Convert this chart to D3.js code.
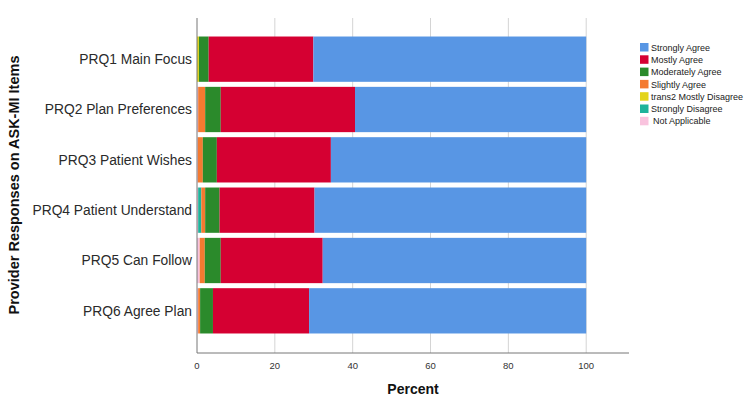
<!DOCTYPE html>
<html>
<head>
<meta charset="utf-8">
<script src="https://cdn.jsdelivr.net/npm/d3@7"></script>
<style>
  body { margin: 0; background: #fff; }
  svg { display: block; font-family: "Liberation Sans", Arial, sans-serif; }
</style>
</head>
<body>
<div id="container"></div>
<script>
// Items (top to bottom)
const items = ["PRQ1 Main Focus", "PRQ2 Plan Preferences", "PRQ3 Patient Wishes",
    "PRQ4 Patient Understand", "PRQ5 Can Follow", "PRQ6 Agree Plan"];

// Percent per response, one array per series (same order as items)
const notApplicable    = [0,    0.3,  0.2,  0.3,  0.7,  0.3];
const stronglyDisagree = [0,    0,    0,    0.8,  0,    0];
const mostlyDisagree   = [0.5,  0,    0,    0,    0,    0];
const slightlyAgree    = [0,    1.8,  1.3,  1.0,  1.3,  0.5];
const moderatelyAgree  = [2.5,  4.0,  3.6,  3.7,  4.1,  3.3];
const mostlyAgree      = [26.9, 34.5, 29.3, 24.4, 26.2, 24.7];
const stronglyAgree    = [70.1, 59.4, 65.6, 69.8, 67.7, 71.2];

const xTicks = [0, 20, 40, 60, 80, 100];

// series in stacking order (left to right)
const series = [
    {name: "Not Applicable", values: notApplicable, color: "#f9c3de"},
    {name: "Strongly Disagree", values: stronglyDisagree, color: "#1db39b"},
    {name: "trans2 Mostly Disagree", values: mostlyDisagree, color: "#e3d41a"},
    {name: "Slightly Agree", values: slightlyAgree, color: "#f47a30"},
    {name: "Moderately Agree", values: moderatelyAgree, color: "#2b8a2b"},
    {name: "Mostly Agree", values: mostlyAgree, color: "#d50032"},
    {name: "Strongly Agree", values: stronglyAgree, color: "#5896e4"}
];
// legend reads top-down in the reverse order
const legendOrder = series.slice().reverse();

const width = 752;
const height = 400;
const plot = {left: 197, right: 629, top: 18, bottom: 353};

const rows = items.map((name, i) => {
    const r = {name};
    series.forEach(s => r[s.name] = s.values[i]);
    return r;
});
const stacked = d3.stack().keys(series.map(s => s.name))(rows);

const x = d3.scaleLinear().domain([0, 111]).range([plot.left, plot.right]);
const y = d3.scaleBand().domain(items).range([34, 336])
    .paddingInner(0.1).paddingOuter(0.05);
const color = d3.scaleOrdinal(series.map(s => s.name), series.map(s => s.color));

const svg = d3.create("svg")
    .attr("width", width)
    .attr("height", height)
    .attr("viewBox", [0, 0, width, height]);

// grid lines
svg.append("g")
    .selectAll("line")
    .data(xTicks.filter(d => d > 0))
    .join("line")
    .attr("x1", d => x(d)).attr("x2", d => x(d))
    .attr("y1", plot.top).attr("y2", plot.bottom)
    .attr("stroke", "#d4d4d4")
    .attr("stroke-width", 1);

// bars
svg.append("g")
    .selectAll("g")
    .data(stacked)
    .join("g")
    .attr("fill", d => color(d.key))
    .selectAll("rect")
    .data(d => d)
    .join("rect")
    .attr("x", d => x(d[0]))
    .attr("y", d => y(d.data.name))
    .attr("width", d => x(d[1]) - x(d[0]))
    .attr("height", y.bandwidth());

// axes lines
svg.append("line")
    .attr("x1", plot.left).attr("x2", plot.left)
    .attr("y1", plot.top).attr("y2", plot.bottom)
    .attr("stroke", "#777");
svg.append("line")
    .attr("x1", plot.left).attr("x2", plot.right)
    .attr("y1", plot.bottom).attr("y2", plot.bottom)
    .attr("stroke", "#777");

// x tick labels
svg.append("g")
    .selectAll("text")
    .data(xTicks)
    .join("text")
    .attr("x", d => x(d))
    .attr("y", 369)
    .attr("text-anchor", "middle")
    .attr("font-size", 9.5)
    .attr("fill", "#333")
    .text(d => d);

// category labels
svg.append("g")
    .selectAll("text")
    .data(items)
    .join("text")
    .attr("x", 192)
    .attr("y", d => y(d) + y.bandwidth() / 2)
    .attr("dy", "0.35em")
    .attr("text-anchor", "end")
    .attr("font-size", 13.8)
    .attr("fill", "#2a2a2a")
    .text(d => d);

// axis titles
svg.append("text")
    .attr("x", 413)
    .attr("y", 394)
    .attr("text-anchor", "middle")
    .attr("font-size", 14)
    .attr("font-weight", "bold")
    .attr("fill", "#111")
    .text("Percent");

svg.append("text")
    .attr("transform", "translate(19,185) rotate(-90)")
    .attr("text-anchor", "middle")
    .attr("font-size", 14.5)
    .attr("font-weight", "bold")
    .attr("fill", "#111")
    .text("Provider Responses on ASK-MI Items");

// legend
const legend = svg.append("g")
    .selectAll("g")
    .data(legendOrder)
    .join("g")
    .attr("transform", (d, i) => `translate(640,${43 + i * 12.3})`);
legend.append("rect")
    .attr("width", 8.5)
    .attr("height", 8.5)
    .attr("fill", d => d.color);
legend.append("text")
    .attr("x", d => d.name === "Not Applicable" ? 13 : 11)
    .attr("y", 4.5)
    .attr("dy", "0.35em")
    .attr("font-size", 9)
    .attr("fill", "#222")
    .text(d => d.name);

d3.select("#container").append(() => svg.node());
</script>
</body>
</html>
